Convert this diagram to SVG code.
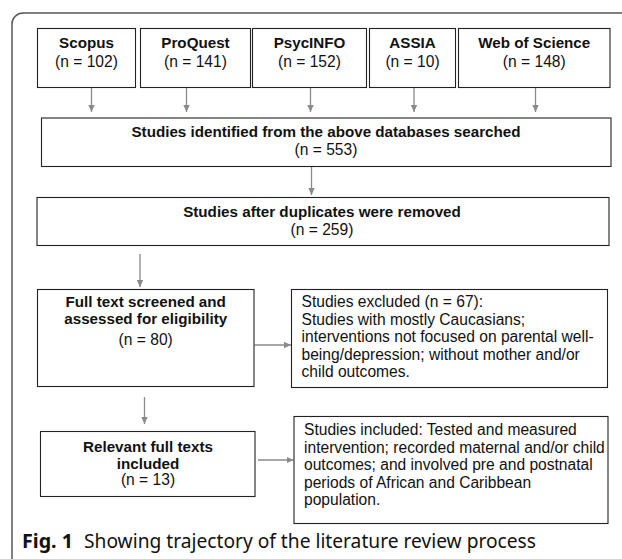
<svg xmlns="http://www.w3.org/2000/svg" width="622" height="559" viewBox="0 0 622 559">
<defs>
<style>
.box{fill:#fff;stroke:#222;stroke-width:1.1}
.t{font-family:"Liberation Sans",Arial,sans-serif;font-size:15.6px;fill:#111}
.b{font-weight:bold;font-size:15.2px}
.c{text-anchor:middle}
.conn{stroke:#8a8a8a;stroke-width:1.3;fill:none;marker-end:url(#ah)}
.cap{font-family:"Noto Sans","Open Sans",sans-serif;font-size:19px;fill:#111}
</style>
<marker id="ah" markerUnits="userSpaceOnUse" markerWidth="8" markerHeight="8" refX="7" refY="4" orient="auto">
<path d="M0,0.8 L7,4 L0,7.2 Z" fill="#8a8a8a"/>
</marker>
</defs>
<rect width="622" height="559" fill="#fff"/>
<path d="M12,559 V24 A11,11 0 0 1 23,13 H622" fill="none" stroke="#555" stroke-width="1.5"/>

<g id="connectors">
<line class="conn" x1="91.5" y1="88" x2="91.5" y2="112"/>
<line class="conn" x1="186.5" y1="88" x2="186.5" y2="112"/>
<line class="conn" x1="310.5" y1="88" x2="310.5" y2="112"/>
<line class="conn" x1="414" y1="88" x2="414" y2="112"/>
<line class="conn" x1="535.5" y1="88" x2="535.5" y2="112"/>
<line class="conn" x1="311.5" y1="167" x2="311.5" y2="195"/>
<line class="conn" x1="140" y1="254" x2="140" y2="287"/>
<line class="conn" x1="254.5" y1="345" x2="291" y2="345"/>
<line class="conn" x1="144.5" y1="397" x2="144.5" y2="424"/>
<line class="conn" x1="258" y1="460" x2="293.5" y2="460"/>
</g>

<g id="scopus">
<rect class="box" x="37.5" y="28.5" width="98" height="59"/>
<text class="t b c" x="86.5" y="48">Scopus</text>
<text class="t c" x="86.5" y="66.5">(n = 102)</text>
</g>
<g id="proquest">
<rect class="box" x="140.5" y="28.5" width="110" height="59"/>
<text class="t b c" x="195.5" y="48">ProQuest</text>
<text class="t c" x="195.5" y="66.5">(n = 141)</text>
</g>
<g id="psycinfo">
<rect class="box" x="252.5" y="28.5" width="114" height="59"/>
<text class="t b c" x="309.5" y="48">PsycINFO</text>
<text class="t c" x="309.5" y="66.5">(n = 152)</text>
</g>
<g id="assia">
<rect class="box" x="369.5" y="28.5" width="86" height="59"/>
<text class="t b c" x="412.5" y="48">ASSIA</text>
<text class="t c" x="412.5" y="66.5">(n = 10)</text>
</g>
<g id="wos">
<rect class="box" x="458.5" y="28.5" width="151.5" height="59"/>
<text class="t b c" x="534.3" y="48">Web of Science</text>
<text class="t c" x="534.3" y="66.5">(n = 148)</text>
</g>

<g id="identified">
<rect class="box" x="41.5" y="118" width="569.5" height="48.5"/>
<text class="t b c" x="326" y="136.5">Studies identified from the above databases searched</text>
<text class="t c" x="326" y="155">(n = 553)</text>
</g>

<g id="removed">
<rect class="box" x="37" y="197.5" width="572" height="48"/>
<text class="t b c" x="322" y="217">Studies after duplicates were removed</text>
<text class="t c" x="322" y="235">(n = 259)</text>
</g>

<g id="screened">
<rect class="box" x="37.5" y="289.5" width="216.5" height="97"/>
<text class="t b c" x="145.7" y="306.7">Full text screened and</text>
<text class="t b c" x="145.7" y="324.2">assessed for eligibility</text>
<text class="t c" x="145.7" y="344.5">(n = 80)</text>
</g>

<g id="excluded">
<rect class="box" x="291.5" y="289.5" width="316" height="98"/>
<text class="t" x="301.5" y="307.3">Studies excluded (n = 67):</text>
<text class="t" x="301.5" y="324.8">Studies with mostly Caucasians;</text>
<text class="t" x="301.5" y="342.3">interventions not focused on parental well-</text>
<text class="t" x="301.5" y="359.8">being/depression; without mother and/or</text>
<text class="t" x="301.5" y="377.3">child outcomes.</text>
</g>

<g id="relevant">
<rect class="box" x="40.5" y="431.5" width="214.5" height="65"/>
<text class="t b c" x="148" y="451.5">Relevant full texts</text>
<text class="t b c" x="148" y="469.2">included</text>
<text class="t c" x="148" y="485">(n = 13)</text>
</g>

<g id="included">
<rect class="box" x="294" y="416.5" width="314" height="107"/>
<text class="t" x="304" y="435">Studies included: Tested and measured</text>
<text class="t" x="304" y="452.5">intervention; recorded maternal and/or child</text>
<text class="t" x="304" y="470">outcomes; and involved pre and postnatal</text>
<text class="t" x="304" y="487.5">periods of African and Caribbean</text>
<text class="t" x="304" y="505">population.</text>
</g>

<g id="caption">
<text class="cap" x="22" y="548"><tspan font-weight="bold" textLength="51" lengthAdjust="spacingAndGlyphs">Fig. 1</tspan><tspan x="84" textLength="452" lengthAdjust="spacingAndGlyphs">Showing trajectory of the literature review process</tspan></text>
</g>
</svg>
